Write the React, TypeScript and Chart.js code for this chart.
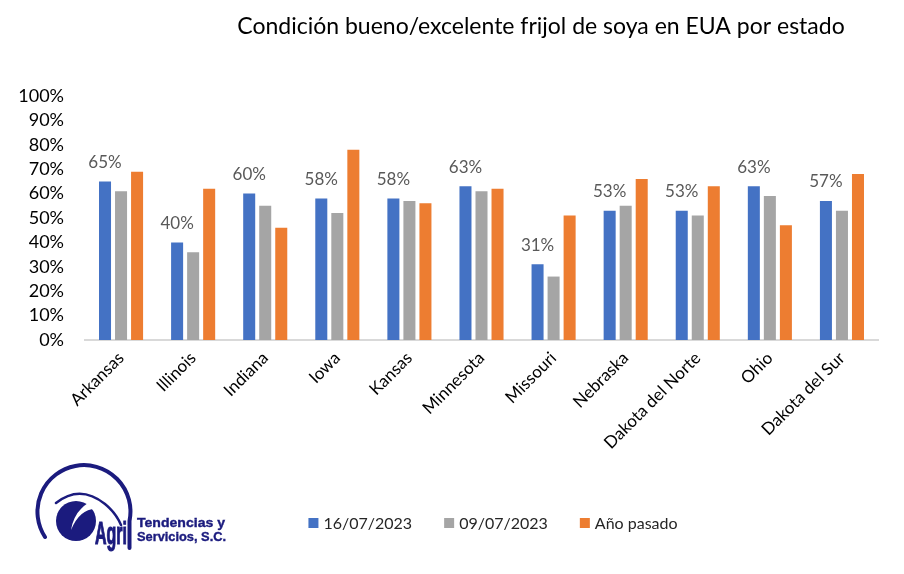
import React, { useEffect, useRef } from "react";
import { Chart, registerables } from "chart.js";

Chart.register(...registerables);

// Estados y porcentajes de condición bueno/excelente
const estados = [
  "Arkansas",
  "Illinois",
  "Indiana",
  "Iowa",
  "Kansas",
  "Minnesota",
  "Missouri",
  "Nebraska",
  "Dakota del Norte",
  "Ohio",
  "Dakota del Sur",
];
const semana16Jul = [65, 40, 60, 58, 58, 63, 31, 53, 53, 63, 57];
const semana09Jul = [61, 36, 55, 52, 57, 61, 26, 55, 51, 59, 53];
const anioPasado = [69, 62, 46, 78, 56, 62, 51, 66, 63, 47, 68];
const serieNombres = ["16/07/2023", "09/07/2023", "Año pasado"];
const serieColores = ["#4472C4", "#A5A5A5", "#ED7D31"];
const titulo = "Condición bueno/excelente frijol de soya en EUA por estado";

const FONT = "Lato, 'Open Sans', sans-serif";
const NAVY = "#1B1B7E";

// Title drawn at a fixed spot above the plot
const titlePlugin = {
  id: "tituloFijo",
  afterDraw(chart: any) {
    const ctx = chart.ctx;
    ctx.save();
    ctx.font = `23px ${FONT}`;
    ctx.fillStyle = "#000000";
    ctx.textAlign = "center";
    ctx.textBaseline = "middle";
    ctx.fillText(titulo, 541, 27);
    ctx.restore();
  },
};

// Percentage labels above the first series
const valueLabels = {
  id: "valueLabels",
  afterDatasetsDraw(chart: any) {
    const meta = chart.getDatasetMeta(0);
    const data = chart.data.datasets[0].data;
    const ctx = chart.ctx;
    ctx.save();
    ctx.font = `17px ${FONT}`;
    ctx.fillStyle = "#595959";
    ctx.textAlign = "center";
    ctx.textBaseline = "middle";
    meta.data.forEach((bar: any, i: number) => {
      ctx.fillText(`${data[i]}%`, bar.x, bar.y - 19);
    });
    ctx.restore();
  },
};

// Legend row under the axis labels
const legendRow = {
  id: "legendRow",
  afterDraw(chart: any) {
    const ctx = chart.ctx;
    ctx.save();
    ctx.font = `16px ${FONT}`;
    ctx.textBaseline = "middle";
    ctx.textAlign = "left";
    const box = 10;
    const gap = 5;
    const itemGap = 32;
    const ds = chart.data.datasets;
    const widths = ds.map((d: any) => ctx.measureText(d.label).width);
    const total =
      widths.reduce((a: number, w: number) => a + box + gap + w, 0) +
      itemGap * (ds.length - 1);
    let x = 493 - total / 2;
    const y = 523;
    ds.forEach((d: any, i: number) => {
      ctx.fillStyle = d.backgroundColor;
      ctx.fillRect(x, y - box / 2, box, box);
      ctx.fillStyle = "#262626";
      ctx.fillText(d.label, x + box + gap, y + 1);
      x += box + gap + widths[i] + itemGap;
    });
    ctx.restore();
  },
};

function Logo() {
  return (
    <svg
      width={904}
      height={574}
      style={{ position: "absolute", left: 0, top: 0, pointerEvents: "none" }}
    >
      {/* outer spiral running into the bar beside the wordmark */}
      <path
        d="M 45 537 A 46.5 46.5 0 1 1 129.5 521 L 129.5 548"
        fill="none"
        stroke={NAVY}
        strokeWidth={4}
        strokeLinecap="round"
      />
      {/* middle thin arc */}
      <path
        d="M 56 503 Q 80 484 105 504 Q 116 513 121 525"
        fill="none"
        stroke={NAVY}
        strokeWidth={2.5}
        strokeLinecap="round"
      />
      {/* inner swirl */}
      <circle cx={76} cy={521} r={20} fill={NAVY} />
      <path d="M 97 509 Q 80 508 71 530 Q 74 512 88 503 Z" fill="#ffffff" />
      <text
        x={95}
        y={544}
        fontFamily="'Liberation Sans', sans-serif"
        fontWeight="bold"
        fontSize={32}
        fill={NAVY}
        stroke={NAVY}
        strokeWidth={1.2}
        textLength={32}
        lengthAdjust="spacingAndGlyphs"
      >
        Agri
      </text>
      <text
        x={137}
        y={527}
        fontFamily="'Liberation Sans', sans-serif"
        fontWeight="bold"
        fontSize={13.5}
        fill={NAVY}
        stroke={NAVY}
        strokeWidth={0.4}
        textLength={88}
        lengthAdjust="spacingAndGlyphs"
      >
        Tendencias y
      </text>
      <text
        x={137}
        y={541}
        fontFamily="'Liberation Sans', sans-serif"
        fontWeight="bold"
        fontSize={13.5}
        fill={NAVY}
        stroke={NAVY}
        strokeWidth={0.4}
        textLength={89}
        lengthAdjust="spacingAndGlyphs"
      >
        Servicios, S.C.
      </text>
    </svg>
  );
}

export default function App() {
  const canvasRef = useRef<HTMLCanvasElement | null>(null);

  useEffect(() => {
    if (!canvasRef.current) return;
    const series = [semana16Jul, semana09Jul, anioPasado];
    const chart = new Chart(canvasRef.current, {
      type: "bar",
      data: {
        labels: estados,
        datasets: series.map((values, i) => ({
          label: serieNombres[i],
          data: values,
          backgroundColor: serieColores[i],
          borderWidth: 0,
          categoryPercentage: 0.667,
          barPercentage: 0.75,
        })),
      },
      options: {
        responsive: false,
        animation: false,
        devicePixelRatio: 1,
        layout: { padding: { top: 96, right: 26, bottom: 0, left: 0 } },
        plugins: {
          legend: { display: false },
          title: { display: false },
          tooltip: { enabled: false },
        },
        scales: {
          x: {
            grid: { display: false, drawTicks: false },
            border: { display: true, color: "#D9D9D9", width: 2 },
            ticks: {
              color: "#000000",
              font: { family: FONT, size: 17 },
              minRotation: 45,
              maxRotation: 45,
              autoSkip: false,
              padding: 8,
            },
            afterFit: (scale: any) => {
              scale.height = 234;
            },
          },
          y: {
            min: 0,
            max: 100,
            grid: { display: false, drawTicks: false },
            border: { display: false },
            ticks: {
              stepSize: 10,
              autoSkip: false,
              color: "#000000",
              font: { family: FONT, size: 18 },
              padding: 21,
              callback: (v: any) => `${v}%`,
            },
            afterFit: (scale: any) => {
              scale.width = 85;
            },
          },
        },
      },
      plugins: [titlePlugin, valueLabels, legendRow],
    });
    return () => chart.destroy();
  }, []);

  return (
    <div
      style={{
        position: "absolute",
        left: 0,
        top: 0,
        width: 904,
        height: 574,
        background: "#ffffff",
      }}
    >
      <canvas ref={canvasRef} width={904} height={574} />
      <Logo />
    </div>
  );
}
